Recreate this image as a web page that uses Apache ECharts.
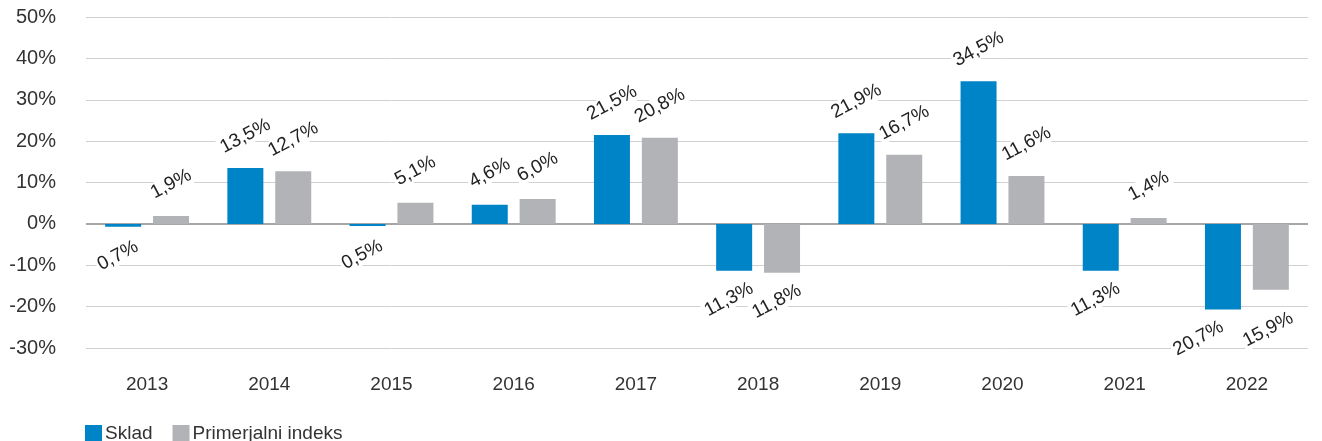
<!DOCTYPE html>
<html>
<head>
<meta charset="utf-8">
<script src="https://cdn.jsdelivr.net/npm/echarts@6/dist/echarts.min.js"></script>
<style>
html, body { margin: 0; padding: 0; background: #fff; }
#chart { width: 1322px; height: 441px; }
</style>
</head>
<body>
<div id="chart"></div>
<script>
var years = ['2013', '2014', '2015', '2016', '2017', '2018', '2019', '2020', '2021', '2022']
var sklad = [-0.7, 13.5, -0.5, 4.6, 21.5, -11.3, 21.9, 34.5, -11.3, -20.7]
var indeks = [1.9, 12.7, 5.1, 6.0, 20.8, -11.8, 16.7, 11.6, 1.4, -15.9]

function fmt(v)
{
    return Math.abs(v).toFixed(1).replace('.', ',') + '%'
}

// labels that are nudged apart so neighbours do not collide (by year index)
function withLabels(values, nudge)
{
    var out = []
    for (var i = 0; i < values.length; i++)
    {
        var neg = values[i] < 0
        var off = neg ? [-6, 0] : [0, 0]
        if (nudge[i]) off = nudge[i]
        out.push({
            value: values[i],
            label: {
                position: neg ? 'bottom' : 'top',
                distance: neg ? 26 : 32,
                offset: off
            }
        })
    }
    return out
}

var labelStyle = {
    show: true,
    rotate: 28,
    align: 'center',
    verticalAlign: 'middle',
    color: '#222',
    fontSize: 19,
    fontFamily: 'Liberation Sans, Arial, sans-serif',
    backgroundColor: '#fff',
    padding: [0, 2],
    formatter: function (p) { return fmt(p.value) }
}

var myChart = echarts.init(document.getElementById('chart'))
var option = {
    animation: false,
    textStyle: { fontFamily: 'Liberation Sans, Arial, sans-serif' },
    grid: { left: 86, right: 14, top: 17, bottom: 93 },
    legend: {
        left: 80,
        top: 419,
        itemWidth: 17,
        itemHeight: 17,
        itemGap: 20,
        icon: 'rect',
        textStyle: { fontSize: 19, color: '#333', padding: [2, 0, 0, -2] },
        data: ['Sklad', 'Primerjalni indeks']
    },
    xAxis: {
        type: 'category',
        data: years,
        axisLine: { show: false },
        axisTick: { show: false },
        axisLabel: { fontSize: 19, color: '#333', margin: 27 }
    },
    yAxis: {
        type: 'value',
        min: -30,
        max: 50,
        interval: 10,
        axisLabel: {
            fontSize: 20,
            color: '#333',
            margin: 30,
            formatter: function (v) { return v + '%' }
        },
        splitLine: { lineStyle: { color: '#d0d0d0', width: 1 } }
    },
    series: [
        {
            name: 'Sklad',
            type: 'bar',
            barWidth: 36,
            barGap: '33%',
            itemStyle: { color: '#0084c8' },
            label: labelStyle,
            data: withLabels(sklad, { 9: [-23, -9] }),
            markLine: {
                silent: true,
                symbol: 'none',
                label: { show: false },
                lineStyle: { color: '#a6a6a6', width: 2, type: 'solid' },
                data: [{ yAxis: 0 }],
                z: 1
            }
        },
        {
            name: 'Primerjalni indeks',
            type: 'bar',
            barWidth: 36,
            itemStyle: { color: '#b2b3b7' },
            label: labelStyle,
            data: withLabels(indeks, { 9: [-9, 11] })
        }
    ]
}
myChart.setOption(option)
</script>
</body>
</html>
